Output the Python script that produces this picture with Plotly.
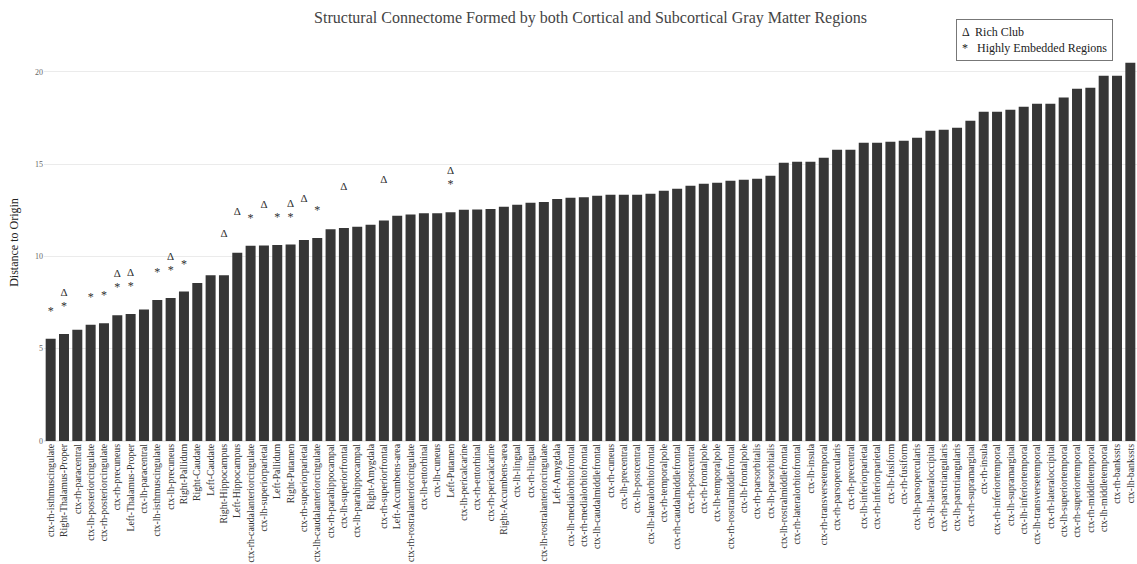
import plotly.graph_objects as go

regions = [
    "ctx-rh-isthmuscingulate", "Right-Thalamus-Proper", "ctx-rh-paracentral",
    "ctx-lh-posteriorcingulate", "ctx-rh-posteriorcingulate", "ctx-rh-precuneus",
    "Left-Thalamus-Proper", "ctx-lh-paracentral", "ctx-lh-isthmuscingulate",
    "ctx-lh-precuneus", "Right-Pallidum", "Right-Caudate", "Left-Caudate",
    "Right-Hippocampus", "Left-Hippocampus", "ctx-rh-caudalanteriorcingulate",
    "ctx-lh-superiorparietal", "Left-Pallidum", "Right-Putamen",
    "ctx-rh-superiorparietal", "ctx-lh-caudalanteriorcingulate",
    "ctx-rh-parahippocampal", "ctx-lh-superiorfrontal", "ctx-lh-parahippocampal",
    "Right-Amygdala", "ctx-rh-superiorfrontal", "Left-Accumbens-area",
    "ctx-rh-rostralanteriorcingulate", "ctx-lh-entorhinal", "ctx-lh-cuneus",
    "Left-Putamen", "ctx-lh-pericalcarine", "ctx-rh-entorhinal",
    "ctx-rh-pericalcarine", "Right-Accumbens-area", "ctx-lh-lingual",
    "ctx-rh-lingual", "ctx-lh-rostralanteriorcingulate", "Left-Amygdala",
    "ctx-lh-medialorbitofrontal", "ctx-rh-medialorbitofrontal",
    "ctx-lh-caudalmiddlefrontal", "ctx-rh-cuneus", "ctx-lh-precentral",
    "ctx-lh-postcentral", "ctx-lh-lateralorbitofrontal", "ctx-rh-temporalpole",
    "ctx-rh-caudalmiddlefrontal", "ctx-rh-postcentral", "ctx-rh-frontalpole",
    "ctx-lh-temporalpole", "ctx-rh-rostralmiddlefrontal", "ctx-lh-frontalpole",
    "ctx-rh-parsorbitalis", "ctx-lh-parsorbitalis", "ctx-lh-rostralmiddlefrontal",
    "ctx-rh-lateralorbitofrontal", "ctx-lh-insula", "ctx-rh-transversetemporal",
    "ctx-rh-parsopercularis", "ctx-rh-precentral", "ctx-lh-inferiorparietal",
    "ctx-rh-inferiorparietal", "ctx-lh-fusiform", "ctx-rh-fusiform",
    "ctx-lh-parsopercularis", "ctx-lh-lateraloccipital", "ctx-rh-parstriangularis",
    "ctx-lh-parstriangularis", "ctx-rh-supramarginal", "ctx-rh-insula",
    "ctx-rh-inferiortemporal", "ctx-lh-supramarginal", "ctx-lh-inferiortemporal",
    "ctx-lh-transversetemporal", "ctx-rh-lateraloccipital",
    "ctx-lh-superiortemporal", "ctx-rh-superiortemporal", "ctx-rh-middletemporal",
    "ctx-lh-middletemporal", "ctx-rh-bankssts", "ctx-lh-bankssts",
]

distance = [
    5.54, 5.80, 6.02, 6.30, 6.38, 6.81, 6.88, 7.12, 7.63, 7.75,
    8.09, 8.55, 8.98, 8.98, 10.19, 10.57, 10.59, 10.62, 10.64, 10.88,
    11.00, 11.47, 11.54, 11.60, 11.71, 11.94, 12.20, 12.27, 12.34, 12.34,
    12.39, 12.52, 12.54, 12.56, 12.68, 12.79, 12.90, 12.95, 13.10, 13.17,
    13.20, 13.28, 13.33, 13.33, 13.33, 13.39, 13.55, 13.66, 13.82, 13.93,
    13.98, 14.09, 14.15, 14.20, 14.36, 15.07, 15.12, 15.12, 15.34, 15.77,
    15.77, 16.15, 16.15, 16.20, 16.26, 16.42, 16.80, 16.86, 16.96, 17.34,
    17.83, 17.83, 17.94, 18.10, 18.27, 18.27, 18.60, 19.08, 19.13, 19.78,
    19.78, 20.49,
]

rich_club = [
    "Right-Thalamus-Proper", "ctx-rh-precuneus", "Left-Thalamus-Proper",
    "ctx-lh-precuneus", "Right-Hippocampus", "Left-Hippocampus",
    "ctx-lh-superiorparietal", "Right-Putamen", "ctx-rh-superiorparietal",
    "ctx-lh-superiorfrontal", "ctx-rh-superiorfrontal", "Left-Putamen",
]

highly_embedded = [
    "ctx-rh-isthmuscingulate", "Right-Thalamus-Proper", "ctx-lh-posteriorcingulate",
    "ctx-rh-posteriorcingulate", "ctx-rh-precuneus", "Left-Thalamus-Proper",
    "ctx-lh-isthmuscingulate", "ctx-lh-precuneus", "Right-Pallidum",
    "ctx-rh-caudalanteriorcingulate", "Left-Pallidum", "Right-Putamen",
    "ctx-lh-caudalanteriorcingulate", "Left-Putamen",
]

lookup = dict(zip(regions, distance))
SERIF = "Liberation Serif"
SYMBOL_COLOR = "#2f2f2f"

fig = go.Figure()
fig.add_trace(go.Bar(
    x=regions, y=distance, marker_color="#363636", marker_line_width=0,
    showlegend=False, hoverinfo="x+y",
))
# symbols sit a fixed distance above the bar they annotate
fig.add_trace(go.Scatter(
    x=highly_embedded, y=[lookup[r] + 1.45 for r in highly_embedded],
    mode="text", text=["*"] * len(highly_embedded), textposition="middle center",
    textfont=dict(family=SERIF, size=12, color=SYMBOL_COLOR), showlegend=False,
))
fig.add_trace(go.Scatter(
    x=rich_club, y=[lookup[r] + 2.2 for r in rich_club],
    mode="text", text=["\u0394"] * len(rich_club), textposition="middle center",
    textfont=dict(family=SERIF, size=11, color=SYMBOL_COLOR), showlegend=False,
))

fig.add_annotation(
    xref="paper", yref="paper", x=0.978, y=1.062, xanchor="right", yanchor="top",
    align="left", showarrow=False,
    text="\u0394  Rich Club<br>*   Highly Embedded Regions",
    font=dict(family=SERIF, size=12, color="#222222"),
    bordercolor="#777777", borderwidth=1, borderpad=5, bgcolor="white",
)

fig.update_layout(
    width=1137, height=564,
    margin=dict(l=44, r=0, t=44, b=123),
    paper_bgcolor="white", plot_bgcolor="white",
    bargap=0.25,
    font=dict(family=SERIF, color="#444444"),
    title=dict(
        text="Structural Connectome Formed by both Cortical and Subcortical Gray Matter Regions",
        x=0.5, xref="paper", xanchor="center", y=0.97, yanchor="middle",
        font=dict(family=SERIF, size=16, color="#444444"),
    ),
    xaxis=dict(
        range=[-0.5, len(regions) - 0.5],
        tickangle=-90, tickfont=dict(family=SERIF, size=9.8, color="#333333"),
        showgrid=False, showline=False, ticks="", automargin=False,
    ),
    yaxis=dict(
        range=[0, 21.5], tickvals=[0, 5, 10, 15, 20],
        tickfont=dict(family=SERIF, size=8, color="#666666"),
        gridcolor="#ebebeb", zeroline=True, zerolinecolor="#ebebeb",
        showline=False, ticks="", automargin=False,
        title=dict(text="Distance to Origin", font=dict(family=SERIF, size=12, color="#222222"), standoff=13),
    ),
)

fig.write_html("out.html")
